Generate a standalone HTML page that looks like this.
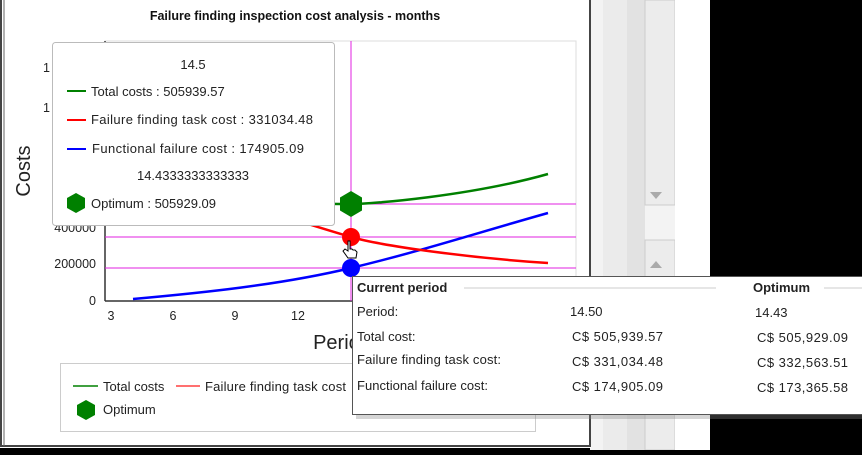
<!DOCTYPE html>
<html><head><meta charset="utf-8"><style>
body{margin:0;width:862px;height:450px;overflow:hidden;background:#000;font-family:"Liberation Sans",sans-serif;}
</style></head><body>
<svg width="862" height="450" xmlns="http://www.w3.org/2000/svg" font-family="Liberation Sans, sans-serif">
<rect x="0" y="0" width="862" height="450" fill="#000"/>
<rect x="590" y="0" width="120" height="450" fill="#f3f3f3"/>
<rect x="603" y="0" width="24" height="450" fill="#ebebeb"/>
<rect x="627" y="0" width="18" height="450" fill="#e2e2e2"/>
<rect x="645" y="0" width="30" height="205" fill="#ececec" stroke="#ccc"/>
<rect x="645" y="240" width="30" height="210" fill="#ececec" stroke="#ccc"/>
<rect x="675" y="0" width="35" height="450" fill="#fff"/>
<polygon points="650,192 662,192 656,199" fill="#aaa"/>
<polygon points="650,268 662,268 656,261" fill="#aaa"/>
<rect x="0" y="0" width="591" height="448" fill="#fff"/>
<rect x="1" y="-2" width="589" height="448" fill="none" stroke="#444" stroke-width="2"/>
<line x1="4" y1="0" x2="4" y2="446" stroke="#666"/>
<text x="295" y="20" font-size="12.5" font-weight="bold" text-anchor="middle" fill="#111">Failure finding inspection cost analysis - months</text>
<rect x="105" y="41" width="471" height="260" fill="#fff" stroke="#ddd"/>
<line x1="105" y1="41" x2="105" y2="301" stroke="#333" stroke-width="1.5"/>
<line x1="105" y1="301" x2="576" y2="301" stroke="#333" stroke-width="1.5"/>
<g font-size="12.5" fill="#222" text-anchor="end">
<text x="96" y="305">0</text><text x="96" y="268">200000</text>
<text x="96" y="232">400000</text>
<text x="50" y="72">1</text><text x="50" y="112">1</text>
</g>
<g font-size="12.5" fill="#222" text-anchor="middle">
<text x="111" y="320">3</text><text x="173" y="320">6</text><text x="235" y="320">9</text><text x="298" y="320">12</text>
</g>
<text x="342" y="349" font-size="20" fill="#222" text-anchor="middle">Period</text>
<text x="30" y="171" font-size="20" fill="#222" text-anchor="middle" transform="rotate(-90 30 171)">Costs</text>
<g stroke="#e020e0" stroke-width="1">
<line x1="351" y1="41" x2="351" y2="301"/>
<line x1="105" y1="204" x2="576" y2="204"/>
<line x1="105" y1="237" x2="576" y2="237"/>
<line x1="105" y1="268" x2="576" y2="268"/>
</g>
<path d="M133,299 C200,293 280,285 351,268 S480,232 548,213" fill="none" stroke="#0000ff" stroke-width="2.5"/>
<path d="M230,200 C280,215 320,228 351,237 S470,258 548,263" fill="none" stroke="#ff0000" stroke-width="2.5"/>
<path d="M250,200 C300,204 330,204 351,204 S470,196 548,174" fill="none" stroke="#008000" stroke-width="2.5"/>
<circle cx="351" cy="237" r="9" fill="#ff0000"/>
<circle cx="351" cy="268" r="9" fill="#0000ff"/>
<polygon points="351,191 362,197.5 362,210.5 351,217 340,210.5 340,197.5" fill="#008000"/>
<rect x="52.5" y="42.5" width="282" height="183" rx="3" fill="#fff" stroke="#bbb"/>
<g font-size="13" fill="#222">
<text x="193" y="69" text-anchor="middle">14.5</text>
<line x1="67" y1="91" x2="86" y2="91" stroke="#008000" stroke-width="2"/>
<text x="91" y="96">Total costs : 505939.57</text>
<line x1="67" y1="120" x2="86" y2="120" stroke="#ff0000" stroke-width="2"/>
<text x="91" y="124" textLength="222">Failure finding task cost : 331034.48</text>
<line x1="67" y1="149" x2="86" y2="149" stroke="#0000ff" stroke-width="2"/>
<text x="92" y="153" textLength="212">Functional failure cost : 174905.09</text>
<text x="193" y="180" text-anchor="middle">14.4333333333333</text>
<polygon points="76,193 85,198 85,208 76,213 67,208 67,198" fill="#008000"/>
<text x="91" y="208">Optimum : 505929.09</text>
</g>
<rect x="60.5" y="363.5" width="475" height="68" fill="#fff" stroke="#ccc"/>
<g font-size="13" fill="#222">
<line x1="73" y1="386" x2="98" y2="386" stroke="#008000" stroke-width="1.5"/>
<text x="103" y="391">Total costs</text>
<line x1="176" y1="386" x2="200" y2="386" stroke="#ff4040" stroke-width="1.5"/>
<text x="205" y="391" textLength="141">Failure finding task cost</text>
<polygon points="86,400 95,405 95,415 86,420 77,415 77,405" fill="#008000"/>
<text x="103" y="414">Optimum</text>
</g>
<rect x="356" y="280" width="510" height="139" fill="#888" opacity="0.35"/>
<rect x="352.5" y="276.5" width="510" height="138" fill="#fff" stroke="#555"/>
<g font-size="13" fill="#222">
<text x="357" y="292" font-weight="bold">Current period</text>
<line x1="464" y1="288" x2="716" y2="288" stroke="#ccc"/>
<text x="753" y="292" font-weight="bold">Optimum</text>
<line x1="824" y1="288" x2="862" y2="288" stroke="#ccc"/>
<text x="357" y="316">Period:</text>
<text x="570" y="316">14.50</text>
<text x="755" y="317">14.43</text>
<text x="357" y="341">Total cost:</text>
<text x="572" y="341" textLength="91">C$ 505,939.57</text>
<text x="757" y="342" textLength="91">C$ 505,929.09</text>
<text x="357" y="364" textLength="144">Failure finding task cost:</text>
<text x="572" y="366" textLength="91">C$ 331,034.48</text>
<text x="757" y="367" textLength="91">C$ 332,563.51</text>
<text x="357" y="390" textLength="131">Functional failure cost:</text>
<text x="572" y="391" textLength="91">C$ 174,905.09</text>
<text x="757" y="392" textLength="91">C$ 173,365.58</text>
</g>
<path d="M348,241 l0,10 l-3,-2 l-2,2 l5,7 l8,0 l1,-6 l-2,-2 l-2,0 l-1,-1 l-2,0 l0,-8 z" fill="#fff" stroke="#000" stroke-width="1"/>
</svg>
</body></html>
